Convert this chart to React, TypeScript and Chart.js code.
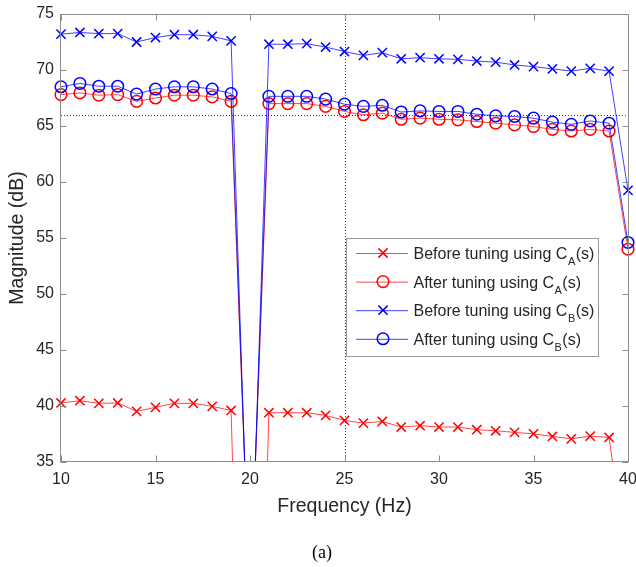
import React, { useEffect, useRef } from 'react';
import { Chart, registerables } from 'chart.js';

Chart.register(...registerables);

// ---------------- data ----------------
const frequencies = [10, 11, 12, 13, 14, 15, 16, 17, 18, 19, 20, 21, 22, 23, 24, 25, 26, 27, 28, 29, 30, 31, 32, 33, 34, 35, 36, 37, 38, 39, 40];

const beforeTuningA = [40.27, 40.47, 40.24, 40.27, 39.52, 39.88, 40.24, 40.24, 39.97, 39.6, -20, 39.4, 39.4, 39.4, 39.16, 38.71, 38.47, 38.62, 38.12, 38.24, 38.12, 38.12, 37.88, 37.79, 37.64, 37.52, 37.28, 37.07, 37.31, 37.19, 25];
const afterTuningA = [67.8, 67.95, 67.75, 67.8, 67.2, 67.5, 67.75, 67.75, 67.6, 67.2, 22, 67.0, 67.0, 67.0, 66.75, 66.3, 66.0, 66.15, 65.6, 65.7, 65.6, 65.55, 65.4, 65.25, 65.1, 64.95, 64.7, 64.55, 64.7, 64.55, 54.0];
const beforeTuningB = [73.2, 73.35, 73.25, 73.25, 72.5, 72.9, 73.15, 73.15, 73.0, 72.6, 20, 72.3, 72.3, 72.35, 72.05, 71.65, 71.3, 71.55, 71.0, 71.1, 71.0, 70.95, 70.8, 70.7, 70.45, 70.3, 70.1, 69.9, 70.15, 69.9, 59.25];
const afterTuningB = [68.5, 68.8, 68.55, 68.55, 67.85, 68.3, 68.5, 68.5, 68.3, 67.9, 22.5, 67.65, 67.65, 67.65, 67.4, 66.95, 66.75, 66.85, 66.25, 66.35, 66.3, 66.3, 66.05, 65.9, 65.85, 65.7, 65.35, 65.15, 65.45, 65.25, 54.6];

const xTickValues = [10, 15, 20, 25, 30, 35, 40];
const yTickValues = [35, 40, 45, 50, 55, 60, 65, 70, 75];

const referenceFrequency = 25;
const referenceMagnitude = 66;

const seriesNames = ['Before tuning using C', 'After tuning using C', 'Before tuning using C', 'After tuning using C'];
const seriesSubscripts = ['A', 'A', 'B', 'B'];
const seriesSuffix = '(s)';

const xTitle = 'Frequency (Hz)';
const yTitle = 'Magnitude (dB)';
const caption = '(a)';

// ---------------- styles ----------------
const SANS = '"Liberation Sans", Arial, Helvetica, sans-serif';
const SERIF = '"Liberation Serif", "Times New Roman", serif';
const RED = '#ff0000';
const BLUE = '#0000ff';
const RED_LINE = 'rgba(255,0,0,0.72)';
const BLUE_LINE = 'rgba(0,0,255,0.75)';
const TEXT = '#262626';
const FRAME = '#8c8c8c';

const seriesStyles = [
  { marker: 'x', color: RED, line: RED_LINE },
  { marker: 'o', color: RED, line: RED_LINE },
  { marker: 'x', color: BLUE, line: BLUE_LINE },
  { marker: 'o', color: BLUE, line: BLUE_LINE },
];

function drawMarker(ctx: CanvasRenderingContext2D, kind: string, x: number, y: number, color: string) {
  ctx.save();
  ctx.strokeStyle = color;
  ctx.lineWidth = 1.5;
  ctx.setLineDash([]);
  ctx.beginPath();
  if (kind === 'x') {
    const r = 6.5 * Math.SQRT1_2;
    ctx.moveTo(x - r, y - r);
    ctx.lineTo(x + r, y + r);
    ctx.moveTo(x + r, y - r);
    ctx.lineTo(x - r, y + r);
  } else {
    ctx.arc(x, y, 5.8, 0, Math.PI * 2);
  }
  ctx.stroke();
  ctx.restore();
}

const framePlugin = {
  id: 'matlabFrame',
  beforeDatasetsDraw(chart: any) {
    const { ctx, chartArea, scales } = chart;
    const { left, right, top, bottom } = chartArea;
    ctx.save();
    ctx.strokeStyle = '#3a3a3a';
    ctx.lineWidth = 1;
    ctx.setLineDash([1, 2]);
    const yRef = Math.round(scales.y.getPixelForValue(referenceMagnitude)) + 0.5;
    ctx.beginPath();
    ctx.moveTo(left, yRef);
    ctx.lineTo(right, yRef);
    ctx.stroke();
    const xRef = Math.round(scales.x.getPixelForValue(referenceFrequency)) + 0.5;
    ctx.beginPath();
    ctx.moveTo(xRef, top);
    ctx.lineTo(xRef, bottom);
    ctx.stroke();
    ctx.restore();
  },
  afterDatasetsDraw(chart: any) {
    const { ctx, chartArea, scales } = chart;
    const { left, right, top, bottom } = chartArea;
    const L = Math.round(left) - 0.5;
    const R = Math.round(right) + 0.5;
    const T = Math.round(top) + 0.5;
    const B = Math.round(bottom) - 0.5;
    ctx.save();
    ctx.strokeStyle = FRAME;
    ctx.lineWidth = 1;
    ctx.setLineDash([]);
    ctx.strokeRect(L, T, R - L, B - T);
    const tick = 6;
    ctx.beginPath();
    xTickValues.forEach((v) => {
      const px = Math.round(scales.x.getPixelForValue(v)) + 0.5;
      ctx.moveTo(px, B);
      ctx.lineTo(px, B - tick);
      ctx.moveTo(px, T);
      ctx.lineTo(px, T + tick);
    });
    yTickValues.forEach((v) => {
      const py = Math.round(scales.y.getPixelForValue(v)) + 0.5;
      ctx.moveTo(L, py);
      ctx.lineTo(L + tick, py);
      ctx.moveTo(R, py);
      ctx.lineTo(R - tick, py);
    });
    ctx.stroke();

    // legend
    const lx = left + 285;
    const ly = top + 224;
    const lw = 252;
    const lh = 118;
    ctx.fillStyle = '#ffffff';
    ctx.fillRect(lx, ly, lw, lh);
    ctx.strokeStyle = '#9a9a9a';
    ctx.strokeRect(Math.round(lx) + 0.5, Math.round(ly) + 0.5, lw, lh);
    const rowGap = 28.6;
    seriesNames.forEach((name, i) => {
      const st = seriesStyles[i];
      const cy = ly + 15 + i * rowGap;
      ctx.strokeStyle = st.line;
      ctx.lineWidth = 1;
      ctx.beginPath();
      ctx.moveTo(lx + 10, cy + 0.5);
      ctx.lineTo(lx + 62, cy + 0.5);
      ctx.stroke();
      drawMarker(ctx, st.marker, lx + 37, cy, st.color);
      ctx.fillStyle = TEXT;
      ctx.textAlign = 'left';
      ctx.textBaseline = 'alphabetic';
      let tx = lx + 67.5;
      const base = cy + 6;
      ctx.font = `16px ${SANS}`;
      ctx.fillText(name, tx, base);
      tx += ctx.measureText(name).width + 0.5;
      ctx.font = `11px ${SANS}`;
      ctx.fillText(seriesSubscripts[i], tx, base + 6);
      tx += ctx.measureText(seriesSubscripts[i]).width + 0.5;
      ctx.font = `16px ${SANS}`;
      ctx.fillText(seriesSuffix, tx, base);
    });

    // caption
    ctx.fillStyle = '#000000';
    ctx.font = `18px ${SERIF}`;
    ctx.textAlign = 'center';
    ctx.textBaseline = 'middle';
    ctx.fillText(caption, 322, 553);
    ctx.restore();
  },
};

const seriesValues = [beforeTuningA, afterTuningA, beforeTuningB, afterTuningB];

export default function App() {
  const canvasRef = useRef<HTMLCanvasElement | null>(null);

  useEffect(() => {
    if (!canvasRef.current) return;
    const datasets = seriesValues.map((vals, i) => {
      const st = seriesStyles[i];
      return {
        label: seriesNames[i] + seriesSubscripts[i] + seriesSuffix,
        data: frequencies.map((f, k) => ({ x: f, y: vals[k] })),
        borderColor: st.line,
        borderWidth: 1,
        backgroundColor: 'transparent',
        pointStyle: st.marker === 'x' ? 'crossRot' : 'circle',
        pointRadius: st.marker === 'x' ? 6.5 : 5.8,
        pointBorderWidth: 1.5,
        pointBorderColor: st.color,
        pointBackgroundColor: 'transparent',
        pointHoverRadius: 0,
        tension: 0,
        fill: false,
        clip: { left: 8, right: 8, top: 8, bottom: 0 },
        order: 4 - i,
      };
    });

    const chart = new Chart(canvasRef.current, {
      type: 'line',
      data: { datasets },
      plugins: [framePlugin],
      options: {
        animation: false,
        responsive: false,
        devicePixelRatio: 1,
        layout: { padding: { left: 0, top: 14, right: 8, bottom: 0 } },
        plugins: { legend: { display: false }, tooltip: { enabled: false } },
        events: [],
        scales: {
          x: {
            type: 'linear',
            min: 10,
            max: 40,
            afterBuildTicks: (s: any) => {
              s.ticks = xTickValues.map((v) => ({ value: v }));
            },
            ticks: { font: { family: SANS, size: 16 }, color: TEXT, padding: 8, maxRotation: 0, autoSkip: false },
            grid: { display: false, drawTicks: false },
            border: { display: false },
            title: { display: true, text: xTitle, color: TEXT, font: { family: SANS, size: 19.5 }, padding: { top: 0, bottom: 48.3 } },
            afterFit: (s: any) => {
              s.height = 105;
              s.paddingLeft = 0;
              s.paddingRight = 0;
            },
          },
          y: {
            type: 'linear',
            min: 35,
            max: 75,
            afterBuildTicks: (s: any) => {
              s.ticks = yTickValues.map((v) => ({ value: v }));
            },
            ticks: { font: { family: SANS, size: 16 }, color: TEXT, padding: 7, autoSkip: false },
            grid: { display: false, drawTicks: false },
            border: { display: false },
            title: { display: true, text: yTitle, color: TEXT, font: { family: SANS, size: 19.5 }, padding: { top: 5.8, bottom: 0 } },
            afterFit: (s: any) => {
              s.width = 61;
              s.paddingTop = 0;
              s.paddingBottom = 0;
            },
          },
        },
      } as any,
    });
    return () => chart.destroy();
  }, []);

  return (
    <div style={{ position: 'absolute', left: 0, top: 0, width: 636, height: 567, background: '#ffffff' }}>
      <canvas ref={canvasRef} width={636} height={567} style={{ display: 'block' }} />
    </div>
  );
}
